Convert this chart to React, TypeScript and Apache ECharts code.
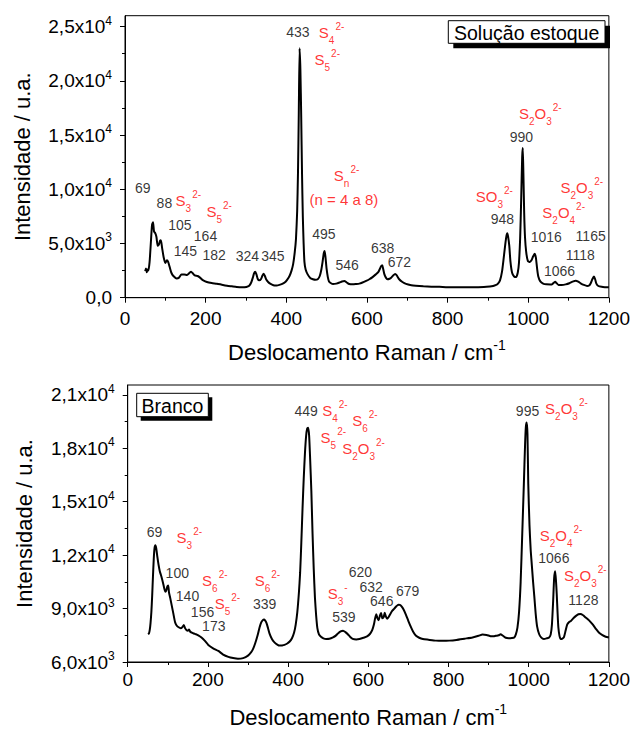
import React, { useEffect, useRef } from 'react';
import * as echarts from 'echarts';

const FONT = '"Liberation Sans", Arial, Helvetica, sans-serif';

// ---------- data ----------
const xTickValues = [0, 200, 400, 600, 800, 1000, 1200];
const topYTicks = [0, 5000, 10000, 15000, 20000, 25000];
const bottomYTicks = [6000, 9000, 12000, 15000, 18000, 21000];

// Solução estoque spectrum [Raman shift cm-1, intensity]
const topSpectrum: [number, number][] = [
  [50, 2450], [52, 2700], [54, 2350], [56, 2600], [58, 2500], [61, 3300], [64, 5000], [67, 6700],
  [69.5, 6950], [72, 6100], [75, 5950], [78, 5600], [81, 4800], [84, 4900], [87, 5250], [89, 5300],
  [92, 4600], [96, 3700], [100, 3200], [104, 3450], [107, 3300], [111, 2800], [115, 2300], [120, 2000],
  [128, 1780], [134, 1850], [140, 2150], [147, 2150], [154, 2100], [159, 2250], [164, 2400], [168, 2250],
  [173, 2050], [180, 2000], [186, 1850], [192, 1650], [203, 1450], [215, 1350], [228, 1290], [240, 1200],
  [253, 1110], [265, 1050], [277, 990], [290, 960], [301, 990], [308, 1100], [313, 1400], [317, 1850],
  [320, 2250], [323, 2400], [326, 2150], [329, 1750], [333, 1600], [337, 1700], [341, 2050], [344, 2200],
  [347, 2000], [350, 1700], [355, 1450], [360, 1300], [368, 1150], [376, 1130], [383, 1180], [390, 1270],
  [396, 1400], [402, 1650], [408, 2000], [413, 2500], [417, 3100], [421, 4200], [424, 5400], [427, 8000],
  [429, 11500], [431, 17000], [433, 23000], [435, 21000], [437, 16700], [439, 11500], [441, 7500],
  [443, 5000], [445, 3300], [448, 2600], [453, 2150], [460, 1800], [466, 1700], [472, 1650], [478, 1700],
  [483, 2000], [487, 2600], [490, 3300], [493, 4100], [495, 4300], [497, 3800], [500, 2650], [503, 1900],
  [506, 1500], [511, 1330], [516, 1260], [524, 1300], [532, 1400], [538, 1500], [544, 1550], [550, 1400],
  [556, 1260], [565, 1230], [573, 1260], [581, 1300], [589, 1400], [598, 1550], [606, 1700], [614, 1900],
  [622, 2150], [628, 2350], [632, 2650], [635, 2900], [638, 3000], [640, 2700], [643, 2200], [647, 1850],
  [651, 1700], [656, 1750], [660, 1850], [665, 2050], [670, 2180], [674, 2050], [680, 1700], [688, 1450],
  [697, 1270], [710, 1150], [721, 1100], [740, 1050], [760, 1020], [780, 1000], [800, 970], [830, 960],
  [860, 960], [890, 980], [905, 1030], [913, 1080], [919, 1150], [925, 1300], [930, 1600], [935, 2400],
  [939, 3600], [943, 4900], [946, 5700], [948, 5950], [950, 5650], [953, 4800], [956, 3300], [960, 2300],
  [965, 1950], [970, 1900], [974, 2300], [977, 3200], [980, 5500], [982.5, 9000], [985, 13000],
  [986.5, 13800], [988, 11500], [990, 7800], [992, 5600], [995, 4200], [999, 3400], [1004, 3300],
  [1008, 3450], [1012, 3800], [1016, 4050], [1019, 3700], [1022, 2700], [1025, 1950], [1030, 1500],
  [1037, 1300], [1045, 1230], [1055, 1220], [1060, 1260], [1064, 1400], [1067, 1480], [1070, 1350],
  [1075, 1180], [1083, 1180], [1093, 1230], [1102, 1330], [1110, 1480], [1118, 1570], [1124, 1480],
  [1130, 1330], [1138, 1180], [1146, 1080], [1151, 1120], [1155, 1330], [1159, 1700], [1163, 1950],
  [1166, 1700], [1169, 1300], [1174, 1080], [1182, 1000], [1190, 970], [1200, 960],
];

// Branco spectrum
const bottomSpectrum: [number, number][] = [
  [51, 7550], [53, 7600], [55, 7800], [57, 8200], [59, 8800], [61, 9700], [63, 10800], [65, 11800],
  [67, 12400], [69, 12550], [71, 12400], [74, 11900], [77, 11450], [80, 11100], [84, 10800], [88, 10450],
  [91, 10150], [94, 9950], [96, 10000], [99, 10250], [101, 10300], [103, 9900], [106, 9600], [110, 9150],
  [114, 8700], [118, 8250], [122, 8050], [127, 7950], [132, 7900], [136, 7950], [140, 8080], [143, 7900],
  [147, 7780], [150, 7750], [153, 7830], [156, 7700], [160, 7650], [165, 7600], [170, 7560], [176, 7500],
  [184, 7380], [192, 7200], [201, 6960], [213, 6770], [226, 6620], [238, 6420], [251, 6290], [263, 6220],
  [275, 6180], [288, 6220], [300, 6360], [308, 6550], [313, 6750], [318, 7050], [324, 7500], [329, 7950],
  [333, 8220], [337, 8350], [340, 8380], [343, 8320], [346, 8200], [350, 7900], [354, 7580], [360, 7280],
  [366, 7100], [373, 6980], [379, 6920], [385, 6930], [391, 6960], [398, 7040], [404, 7150], [410, 7350],
  [415, 7650], [419, 8100], [423, 8800], [427, 9900], [430, 11000], [433, 12700], [436, 14600],
  [439, 16300], [442, 17700], [445, 18700], [447.5, 19100], [450, 19150], [452.5, 18700], [455, 17400],
  [458, 15600], [461, 13200], [464, 11200], [467, 9600], [470, 8600], [473, 7900], [477, 7550],
  [482, 7420], [488, 7330], [495, 7290], [503, 7300], [512, 7380], [519, 7480], [525, 7620], [531, 7720],
  [537, 7760], [543, 7680], [549, 7560], [555, 7400], [561, 7300], [570, 7270], [578, 7290], [588, 7360],
  [597, 7440], [605, 7600], [610, 7800], [614, 8100], [617, 8450], [620, 8680], [623, 8450], [626, 8350],
  [629, 8600], [632, 8750], [635, 8450], [638, 8500], [641, 8760], [644, 8550], [647, 8430], [650, 8500],
  [655, 8700], [660, 8880], [665, 9000], [670, 9130], [675, 9220], [679, 9200], [683, 9120], [688, 8950],
  [694, 8650], [700, 8300], [707, 7930], [713, 7650], [719, 7470], [727, 7360], [736, 7290], [750, 7250],
  [769, 7200], [785, 7190], [802, 7200], [820, 7240], [840, 7310], [860, 7380], [875, 7470], [885, 7550],
  [895, 7520], [905, 7450], [912, 7440], [918, 7470], [925, 7500], [930, 7560], [935, 7490], [943, 7360],
  [950, 7340], [958, 7350], [964, 7380], [968, 7550], [972, 7930], [976, 8800], [980, 10500],
  [984, 13200], [988, 16000], [991, 18200], [993, 19200], [995, 19450], [997, 18800], [999, 16000],
  [1002, 13700], [1005, 12300], [1008, 11400], [1011, 10500], [1014, 9700], [1017.5, 8700], [1021, 8000],
  [1026, 7570], [1031, 7380], [1038, 7290], [1045, 7330], [1051, 7380], [1055, 7550], [1058, 8100],
  [1061, 9400], [1063.5, 10700], [1066, 11100], [1068, 10600], [1070, 9800], [1072, 8800], [1074, 7950],
  [1077, 7450], [1080, 7290], [1084, 7310], [1088, 7400], [1092, 7750], [1096, 8100], [1101, 8250],
  [1106, 8320], [1112, 8470], [1118, 8590], [1124, 8680], [1129, 8700], [1135, 8640], [1142, 8500],
  [1150, 8350], [1159, 8120], [1167, 7880], [1175, 7660], [1184, 7510], [1192, 7420], [1200, 7380],
];

// annotations: [x (cm-1), intensity, text]
const topPeakLabels: [number, number, string][] = [
  [24.7, 10090, '69'], [78.4, 8760, '88'], [107, 6700, '105'], [170.7, 5690, '164'],
  [121, 4340, '145'], [192, 3940, '182'], [274.6, 3870, '324'], [338, 3870, '345'],
  [400, 24540, '433'], [464.3, 5880, '495'], [522, 3020, '546'], [610, 4560, '638'],
  [651.5, 3320, '672'], [907, 7250, '948'], [954, 14850, '990'], [1006, 5570, '1016'],
  [1039, 2490, '1066'], [1117.5, 5690, '1165'], [1093, 3940, '1118'],
];
const topIonLabels: [number, number, string][] = [
  [125.4, 8920, '{n|S}{b|3}{p|2-}'], [202, 7930, '{n|S}{b|5}{p|2-}'],
  [480.8, 24450, '{n|S}{b|4}{p|2-}'], [470, 21930, '{n|S}{b|5}{p|2-}'],
  [517.9, 11250, '{n|S}{b|n}{p|2-}'], [457.7, 9080, '{n|(n = 4 a 8)}'],
  [870, 9350, '{n|SO}{b|3}{p|2-}'], [977, 16950, '{n|S}{b|2}{n|O}{b|3}{p|2-}'],
  [1080, 10150, '{n|S}{b|2}{n|O}{b|3}{p|2-}'], [1035, 7840, '{n|S}{b|2}{n|O}{b|4}{p|2-}'],
];
const bottomPeakLabels: [number, number, string][] = [
  [47.3, 13270, '69'], [94.5, 11010, '100'], [120, 9680, '140'], [157.5, 8820, '156'],
  [185.6, 8030, '173'], [312.5, 9280, '339'], [416, 20080, '449'], [510, 8540, '539'],
  [551, 11060, '620'], [578, 10200, '632'], [604.5, 9440, '646'], [669, 10010, '679'],
  [968, 20080, '995'], [1024, 11850, '1066'], [1099, 9460, '1128'],
];
const bottomIonLabels: [number, number, string][] = [
  [122, 12990, '{n|S}{b|3}{p|2-}'], [185.6, 10600, '{n|S}{b|6}{p|2-}'], [217, 9310, '{n|S}{b|5}{p|2-}'],
  [316.7, 10600, '{n|S}{b|6}{p|2-}'], [485, 20130, '{n|S}{b|4}{p|2-}'], [560, 19530, '{n|S}{b|6}{p|2-}'],
  [481, 18610, '{n|S}{b|5}{p|2-}'], [535, 18000, '{n|S}{b|2}{n|O}{b|3}{p|2-}'],
  [499, 9860, '{n|S}{b|3}{p|-}'], [1041, 20210, '{n|S}{b|2}{n|O}{b|3}{p|2-}'],
  [1027.6, 13090, '{n|S}{b|2}{n|O}{b|4}{p|2-}'], [1088, 10880, '{n|S}{b|2}{n|O}{b|3}{p|2-}'],
];

// ---------- helpers ----------
const RED = '#ff0000';
const ionRich = {
  n: { fontSize: 15, lineHeight: 26, color: RED, fontFamily: FONT },
  b: { fontSize: 10, verticalAlign: 'bottom', color: RED, fontFamily: FONT },
  p: { fontSize: 10, verticalAlign: 'top', color: RED, fontFamily: FONT, padding: [2, 0, 0, 1] },
};

function sciLabel(v: number, ticks: number[]) {
  if (!ticks.includes(v)) return '';
  if (v === 0) return '{a|0,0}';
  const exp = Math.floor(Math.log10(v) + 1e-9);
  const mant = v / Math.pow(10, exp);
  return `{a|${mant.toFixed(1).replace('.', ',')}x10}{s|${exp}}`;
}

const labelRich = {
  a: { fontSize: 19, lineHeight: 24, color: '#000', fontFamily: FONT },
  s: { fontSize: 12, verticalAlign: 'top', color: '#000', fontFamily: FONT },
};

function annotationSeries(items: [number, number, string][], idx: number, ion: boolean) {
  return {
    type: 'scatter',
    xAxisIndex: idx,
    yAxisIndex: idx,
    symbolSize: 0,
    silent: true,
    z: 5,
    data: items.map((d) => ({ value: [d[0], d[1]], name: d[2] })),
    label: {
      show: true,
      position: 'right',
      distance: 0,
      formatter: (p: any) => p.name,
      color: ion ? RED : '#000',
      fontSize: 14,
      fontFamily: FONT,
      rich: ion ? ionRich : undefined,
    },
  };
}

function xAxis(idx: number, labelMargin: number) {
  return {
    type: 'value',
    gridIndex: idx,
    min: 0,
    max: 1200,
    interval: 200,
    axisLine: { show: true, onZero: false, lineStyle: { color: '#000', width: 1 } },
    axisTick: { show: true, inside: false, length: 5, lineStyle: { color: '#000' } },
    minorTick: { show: true, splitNumber: 2, length: 3, lineStyle: { color: '#000' } },
    splitLine: { show: false },
    axisLabel: {
      color: '#000',
      fontSize: 19,
      fontFamily: FONT,
      margin: labelMargin,
      formatter: (v: number) => (xTickValues.includes(v) ? String(v) : ''),
    },
    name: 'Deslocamento Raman / cm{s|-1}',
    nameLocation: 'middle',
    nameGap: 40,
    nameTextStyle: {
      color: '#000',
      fontSize: 22,
      lineHeight: 30,
      fontFamily: FONT,
      rich: { s: { fontSize: 14, verticalAlign: 'top', color: '#000', fontFamily: FONT } },
    },
  };
}

function yAxis(idx: number, min: number, max: number, interval: number, ticks: number[]) {
  return {
    type: 'value',
    gridIndex: idx,
    min,
    max,
    interval,
    axisLine: { show: true, lineStyle: { color: '#000', width: 1 } },
    axisTick: { show: true, inside: false, length: 5, lineStyle: { color: '#000' }, customValues: ticks },
    minorTick: { show: true, splitNumber: 2, length: 3, lineStyle: { color: '#000' } },
    splitLine: { show: false },
    axisLabel: {
      color: '#000',
      fontSize: 19,
      fontFamily: FONT,
      margin: 13,
      customValues: ticks,
      formatter: (v: number) => sciLabel(v, ticks),
      rich: labelRich,
    },
    name: 'Intensidade / u.a.',
    nameLocation: 'middle',
    nameGap: 92,
    nameTextStyle: { color: '#000', fontSize: 22, fontFamily: FONT },
  };
}

function legendBox(x: number, y: number, w: number, h: number, off: number, text: string) {
  return [
    { type: 'rect', shape: { x: x + off, y: y + off, width: w, height: h }, style: { fill: '#000' }, z: 10 },
    { type: 'rect', shape: { x, y, width: w, height: h }, style: { fill: '#fff', stroke: '#000', lineWidth: 1 }, z: 11 },
    {
      type: 'text',
      x: x + w / 2,
      y: y + h / 2 + 1,
      z: 12,
      style: { text, fontSize: 19.5, fontFamily: FONT, fill: '#000', align: 'center', verticalAlign: 'middle' },
    },
  ];
}

export default function App() {
  const ref = useRef<HTMLDivElement>(null);
  useEffect(() => {
    document.body.style.margin = '0';
    const chart = echarts.init(ref.current!, undefined, { renderer: 'svg' });
    chart.setOption({
      animation: false,
      backgroundColor: '#fff',
      textStyle: { fontFamily: FONT },
      grid: [
        { left: 125, top: 15.7, width: 485, height: 282, show: true, borderColor: '#000', borderWidth: 1, backgroundColor: 'transparent' },
        { left: 127.7, top: 385, width: 482.3, height: 281.7, show: true, borderColor: '#000', borderWidth: 1, backgroundColor: 'transparent' },
      ],
      xAxis: [xAxis(0, 11), xAxis(1, 8)],
      yAxis: [yAxis(0, 0, 26000, 5000, topYTicks), yAxis(1, 6000, 21550, 3000, bottomYTicks)],
      series: [
        {
          type: 'line', xAxisIndex: 0, yAxisIndex: 0, data: topSpectrum, showSymbol: false, symbol: 'none',
          smooth: 0.2, lineStyle: { color: '#000', width: 2 }, silent: true,
        },
        {
          type: 'line', xAxisIndex: 1, yAxisIndex: 1, data: bottomSpectrum, showSymbol: false, symbol: 'none',
          smooth: 0.2, lineStyle: { color: '#000', width: 2 }, silent: true,
        },
        annotationSeries(topPeakLabels, 0, false),
        annotationSeries(topIonLabels, 0, true),
        annotationSeries(bottomPeakLabels, 1, false),
        annotationSeries(bottomIonLabels, 1, true),
      ],
      graphic: [
        ...legendBox(448.3, 20.7, 156.7, 22.6, 5, 'Solução estoque'),
        ...legendBox(136.7, 393.3, 71.6, 23.4, 4, 'Branco'),
      ],
    });
    return () => chart.dispose();
  }, []);
  return <div ref={ref} style={{ width: 633, height: 733 }} />;
}
